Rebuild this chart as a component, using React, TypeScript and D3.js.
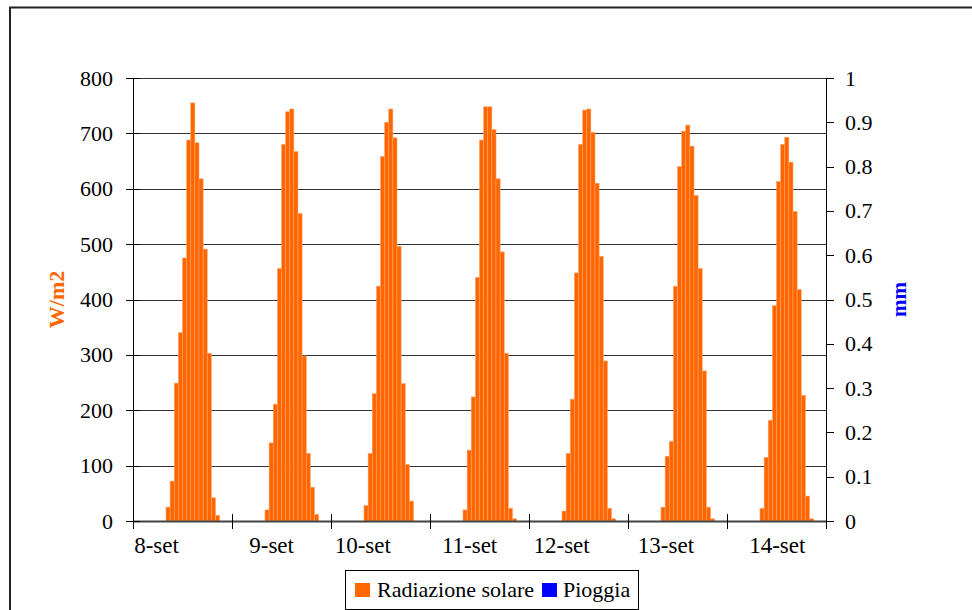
import React from "react";
import * as d3 from "d3";

// ---- DATA ----
const days: string[] = ["8-set", "9-set", "10-set", "11-set", "12-set", "13-set", "14-set"];
// hourly solar radiation (W/m2), 24 values per day (hour 0..23)
const rad8: number[] = [0,0,0,0,0,0,0,0,25,72,249,340,475,688,755,683,618,491,303,42,10,0,0,0];
const rad9: number[] = [0,0,0,0,0,0,0,0,20,141,211,456,680,739,744,667,555,298,122,61,12,0,0,0];
const rad10: number[] = [0,0,0,0,0,0,0,0,28,122,230,424,658,720,744,692,496,248,102,36,0,0,0,0];
const rad11: number[] = [0,0,0,0,0,0,0,0,20,128,224,440,688,748,748,707,618,486,303,23,4,0,0,0];
const rad12: number[] = [0,0,0,0,0,0,0,0,18,122,220,448,680,742,744,702,610,478,289,23,4,0,0,0];
const rad13: number[] = [0,0,0,0,0,0,0,0,25,117,144,424,640,704,715,677,588,456,271,25,4,0,0,0];
const rad14: number[] = [0,0,0,0,0,0,0,0,23,115,182,389,613,680,693,648,559,418,227,45,4,0,0,0];
const radiazione: number[][] = [rad8, rad9, rad10, rad11, rad12, rad13, rad14];
// rain (mm): no rain recorded in the period
const pioggia: number[] = [0, 0, 0, 0, 0, 0, 0];
// hour-of-day at which each date label is anchored (as placed in the original)
const labelHour: number[] = [5.7, 9.6, 7.7, 9.6, 7.9, 9.2, 12.2];
const leftTicks: number[] = [0, 100, 200, 300, 400, 500, 600, 700, 800];
const rightTicks: number[] = [0, 0.1, 0.2, 0.3, 0.4, 0.5, 0.6, 0.7, 0.8, 0.9, 1];

const FONT = "'Liberation Serif', 'Times New Roman', serif";
const ORANGE = "#FF6600";
const BLUE = "#0000FF";

export default function App() {
  const W = 972, H = 610;
  const x0 = 133, x1 = 826, yTop = 78, yBot = 521;
  const hours = days.length * 24;
  const x = d3.scaleLinear().domain([0, hours]).range([x0, x1]);
  const yL = d3.scaleLinear().domain([0, 800]).range([yBot, yTop]);
  const yR = d3.scaleLinear().domain([0, 1]).range([yBot, yTop]);
  const slot = x(1) - x(0);

  const bars: { h: number; v: number }[] = [];
  radiazione.forEach((arr, d) => arr.forEach((v, h) => { if (v > 0) bars.push({ h: d * 24 + h, v }); }));

  const fmtR = (t: number) => (t === 0 ? "0" : t === 1 ? "1" : d3.format(".1f")(t));

  return (
    <svg width={W} height={H} style={{ position: "absolute", left: 0, top: 0, background: "#fff" }}>
      <rect x={10} y={7.5} width={1000} height={700} fill="#fff" stroke="#222" strokeWidth={2} />
      {/* gridlines */}
      {leftTicks.map((t) => (
        <line key={"g" + t} x1={x0} x2={x1} y1={Math.round(yL(t)) + 0.5} y2={Math.round(yL(t)) + 0.5} stroke="#333" strokeWidth={1} />
      ))}
      {/* bars */}
      {bars.map((b, i) => (
        <rect key={"b" + i} x={x(b.h)} y={yL(b.v)} width={slot} height={yBot - yL(b.v)} fill={ORANGE} stroke="#FFA366" strokeWidth={0.6} />
      ))}
      {pioggia.map((v, i) => v > 0 ? (
        <rect key={"p" + i} x={x(i * 24)} y={yR(v)} width={slot} height={yBot - yR(v)} fill={BLUE} />
      ) : null)}
      {/* x axis */}
      <line x1={x0} x2={x1} y1={yBot + 0.5} y2={yBot + 0.5} stroke="#444" strokeWidth={2} />
      {d3.range(days.length + 1).map((d) => (
        <line key={"xt" + d} x1={Math.round(x(d * 24)) + 0.5} x2={Math.round(x(d * 24)) + 0.5} y1={yBot - 7} y2={yBot + 8} stroke="#000" strokeWidth={1} />
      ))}
      {days.map((lab, d) => (
        <text key={"xl" + d} x={x(d * 24 + labelHour[d])} y={553} textAnchor="middle" fontFamily={FONT} fontSize={23} fill="#000">{lab}</text>
      ))}
      {/* left axis */}
      <line x1={x0 + 0.5} x2={x0 + 0.5} y1={yTop} y2={yBot} stroke="#000" strokeWidth={1} />
      {leftTicks.map((t) => (
        <g key={"lt" + t}>
          <line x1={x0 - 7} x2={x0 + 7} y1={Math.round(yL(t)) + 0.5} y2={Math.round(yL(t)) + 0.5} stroke="#000" strokeWidth={1} />
          <text x={113} y={yL(t) + 7.5} textAnchor="end" fontFamily={FONT} fontSize={22} fill="#000">{t}</text>
        </g>
      ))}
      {/* right axis */}
      <line x1={x1 + 0.5} x2={x1 + 0.5} y1={yTop} y2={yBot} stroke="#000" strokeWidth={1} />
      {rightTicks.map((t) => (
        <g key={"rt" + t}>
          <line x1={x1} x2={x1 + 8} y1={Math.round(yR(t)) + 0.5} y2={Math.round(yR(t)) + 0.5} stroke="#000" strokeWidth={1} />
          <text x={845} y={yR(t) + 7.5} textAnchor="start" fontFamily={FONT} fontSize={22} fill="#000">{fmtR(t)}</text>
        </g>
      ))}
      {/* axis titles */}
      <text transform={`translate(64,${(yTop + yBot) / 2}) rotate(-90)`} textAnchor="middle" fontFamily={FONT} fontSize={22} fontWeight="bold" fill={ORANGE}>W/m2</text>
      <text transform={`translate(906,${(yTop + yBot) / 2}) rotate(-90)`} textAnchor="middle" fontFamily={FONT} fontSize={21} fontWeight="bold" fill={BLUE}>mm</text>
      {/* legend */}
      <rect x={345.5} y={570.5} width={293} height={39} fill="#fff" stroke="#000" strokeWidth={1} />
      <rect x={355} y={583} width={15} height={14} fill={ORANGE} />
      <text x={377} y={597} fontFamily={FONT} fontSize={22} fill="#000">Radiazione solare</text>
      <rect x={542} y={583} width={15} height={14} fill={BLUE} />
      <text x={563} y={597} fontFamily={FONT} fontSize={22} fill="#000">Pioggia</text>
    </svg>
  );
}
